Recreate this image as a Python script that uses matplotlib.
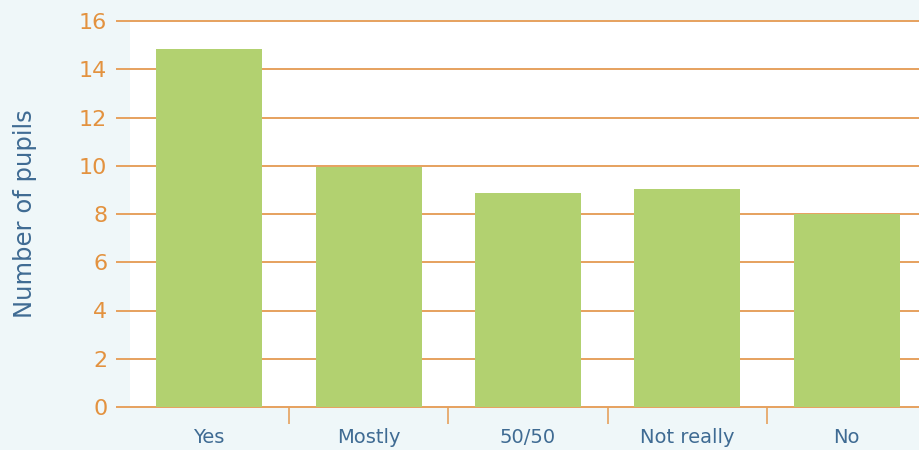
#!/usr/bin/env python3
import numpy as np
from matplotlib import pyplot as plt

categories = ["Yes", "Mostly", "50/50", "Not really", "No"]
pupils = [14.85, 9.95, 8.85, 9.05, 8.0]
yticks = [0, 2, 4, 6, 8, 10, 12, 14, 16]

bg = "#eff7f9"
orange = "#e6a15e"
orange_txt = "#e3923f"
green = "#b2d170"
blue = "#3f6b93"

plt.rcParams["font.family"] = ["DejaVu Sans"]

fig = plt.figure(figsize=(9.19, 4.5), dpi=100, facecolor=bg)
ax = fig.add_axes([129.5/919, 43/450, 797/919, 386/450])
ax.set_facecolor("white")

x = np.arange(len(categories))
# gridlines (stick out to the left like ticks), kept under the bars
ax.hlines(yticks, -13.5/797, 1, transform=ax.get_yaxis_transform(),
          color=orange, linewidth=1.4, clip_on=False, zorder=1)
ax.bar(x, pupils, width=0.665, color=green, edgecolor="none", zorder=5)

ax.set_xlim(-0.5, len(categories)-0.5)
ax.set_ylim(0, 16)
ax.set_yticks(yticks)
ax.tick_params(axis="y", length=0, labelcolor=orange_txt, labelsize=16, pad=16)

ax.set_xticks(x)
ax.set_xticklabels(categories)
ax.set_xticks(np.arange(0.5, len(categories)-0.5), minor=True)
ax.tick_params(axis="x", which="major", length=0, labelcolor=blue, labelsize=14, pad=15)
ax.tick_params(axis="x", which="minor", length=12, width=1.2, color=orange)

for s in ["top", "right", "left", "bottom"]:
    ax.spines[s].set_visible(False)

ax.set_ylabel("Number of pupils", color=blue, fontsize=17.5, labelpad=30)

fig.savefig("out.png", dpi=100, facecolor=bg)
